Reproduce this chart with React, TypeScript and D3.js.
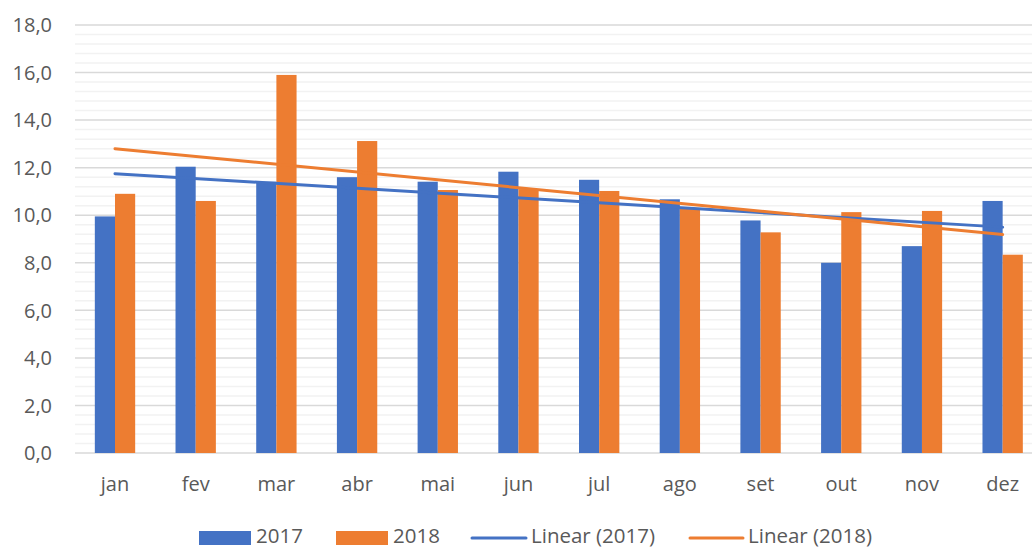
import React from "react";
import * as d3 from "d3";

const months = ["jan", "fev", "mar", "abr", "mai", "jun", "jul", "ago", "set", "out", "nov", "dez"];
const values2017 = [9.95, 12.04, 11.41, 11.6, 11.41, 11.83, 11.49, 10.67, 9.78, 8.0, 8.7, 10.6];
const values2018 = [10.9, 10.6, 15.9, 13.12, 11.06, 11.1, 11.02, 10.3, 9.28, 10.13, 10.18, 8.34];
const yTicks = [0, 2, 4, 6, 8, 10, 12, 14, 16, 18];
const seriesNames = ["2017", "2018"];
const trendNames = ["Linear (2017)", "Linear (2018)"];

const W = 1032;
const H = 548;
const BLUE = "#4472C4";
const ORANGE = "#ED7D31";
const FONT = "'Open Sans', sans-serif";
const TEXT = "#595959";

function linreg(vals: number[]) {
  const n = vals.length;
  const xs = vals.map((_, i) => i + 1);
  const mx = d3.mean(xs) as number;
  const my = d3.mean(vals) as number;
  let sxy = 0, sxx = 0;
  xs.forEach((x, i) => { sxy += (x - mx) * (vals[i] - my); sxx += (x - mx) * (x - mx); });
  const b = sxy / sxx;
  const a = my - b * mx;
  return [a + b * 1, a + b * n];
}

export default function App() {
  const x0 = d3.scaleBand<string>().domain(months).range([74.65, 1043]).paddingInner(0.5).paddingOuter(0.25);
  const x1 = d3.scaleBand<string>().domain(seriesNames).range([0, x0.bandwidth()]);
  const y = d3.scaleLinear().domain([0, 18]).range([453, 25]);
  const minor = d3.range(0, 18.001, 0.4).filter((v) => Math.abs(v / 2 - Math.round(v / 2)) > 1e-6);
  const center = (m: string) => (x0(m) as number) + x0.bandwidth() / 2;
  const series = [values2017, values2018];
  const colors = [BLUE, ORANGE];
  const trends = series.map(linreg);
  const line = d3.line<[number, number]>().x((d) => d[0]).y((d) => d[1]);
  const ly = 535.5;

  return (
    <svg width={W} height={H} style={{ position: "absolute", left: 0, top: 0, background: "#fff" }} fontFamily={FONT}>
      {minor.map((v) => (
        <line key={"mi" + v} x1={75} x2={W} y1={y(v)} y2={y(v)} stroke="#f2f2f2" strokeWidth={1.5} />
      ))}
      {yTicks.map((v) => (
        <line key={"ma" + v} x1={75} x2={W} y1={y(v)} y2={y(v)} stroke="#d9d9d9" strokeWidth={1.5} />
      ))}
      {yTicks.map((v) => (
        <text key={"yl" + v} x={52} y={y(v)} dy="0.36em" textAnchor="end" fontSize={20} fill={TEXT}>
          {d3.format(".1f")(v).replace(".", ",")}
        </text>
      ))}
      {months.map((m, i) => (
        <g key={m}>
          {series.map((s, j) => (
            <rect
              key={j}
              x={(x0(m) as number) + (x1(seriesNames[j]) as number)}
              width={x1.bandwidth()}
              y={y(s[i])}
              height={y(0) - y(s[i])}
              fill={colors[j]}
            />
          ))}
          <text x={center(m)} y={491} textAnchor="middle" fontSize={20} fill={TEXT}>{m}</text>
        </g>
      ))}
      {trends.map((t, j) => (
        <path
          key={"t" + j}
          d={line([[center(months[0]), y(t[0])], [center(months[months.length - 1]), y(t[1])]]) as string}
          stroke={colors[j]}
          strokeWidth={3}
          strokeLinecap="round"
          fill="none"
        />
      ))}
      <g>
        <rect x={199} y={531} width={52} height={14} fill={BLUE} />
        <text x={256} y={ly} dy="0.36em" fontSize={20.5} fill={TEXT}>{seriesNames[0]}</text>
        <rect x={336} y={531} width={52} height={14} fill={ORANGE} />
        <text x={393} y={ly} dy="0.36em" fontSize={20.5} fill={TEXT}>{seriesNames[1]}</text>
        <line x1={472} x2={526} y1={538} y2={538} stroke={BLUE} strokeWidth={3} strokeLinecap="round" />
        <text x={531} y={ly} dy="0.36em" fontSize={20.5} fill={TEXT}>{trendNames[0]}</text>
        <line x1={690} x2={743} y1={538} y2={538} stroke={ORANGE} strokeWidth={3} strokeLinecap="round" />
        <text x={748} y={ly} dy="0.36em" fontSize={20.5} fill={TEXT}>{trendNames[1]}</text>
      </g>
    </svg>
  );
}
